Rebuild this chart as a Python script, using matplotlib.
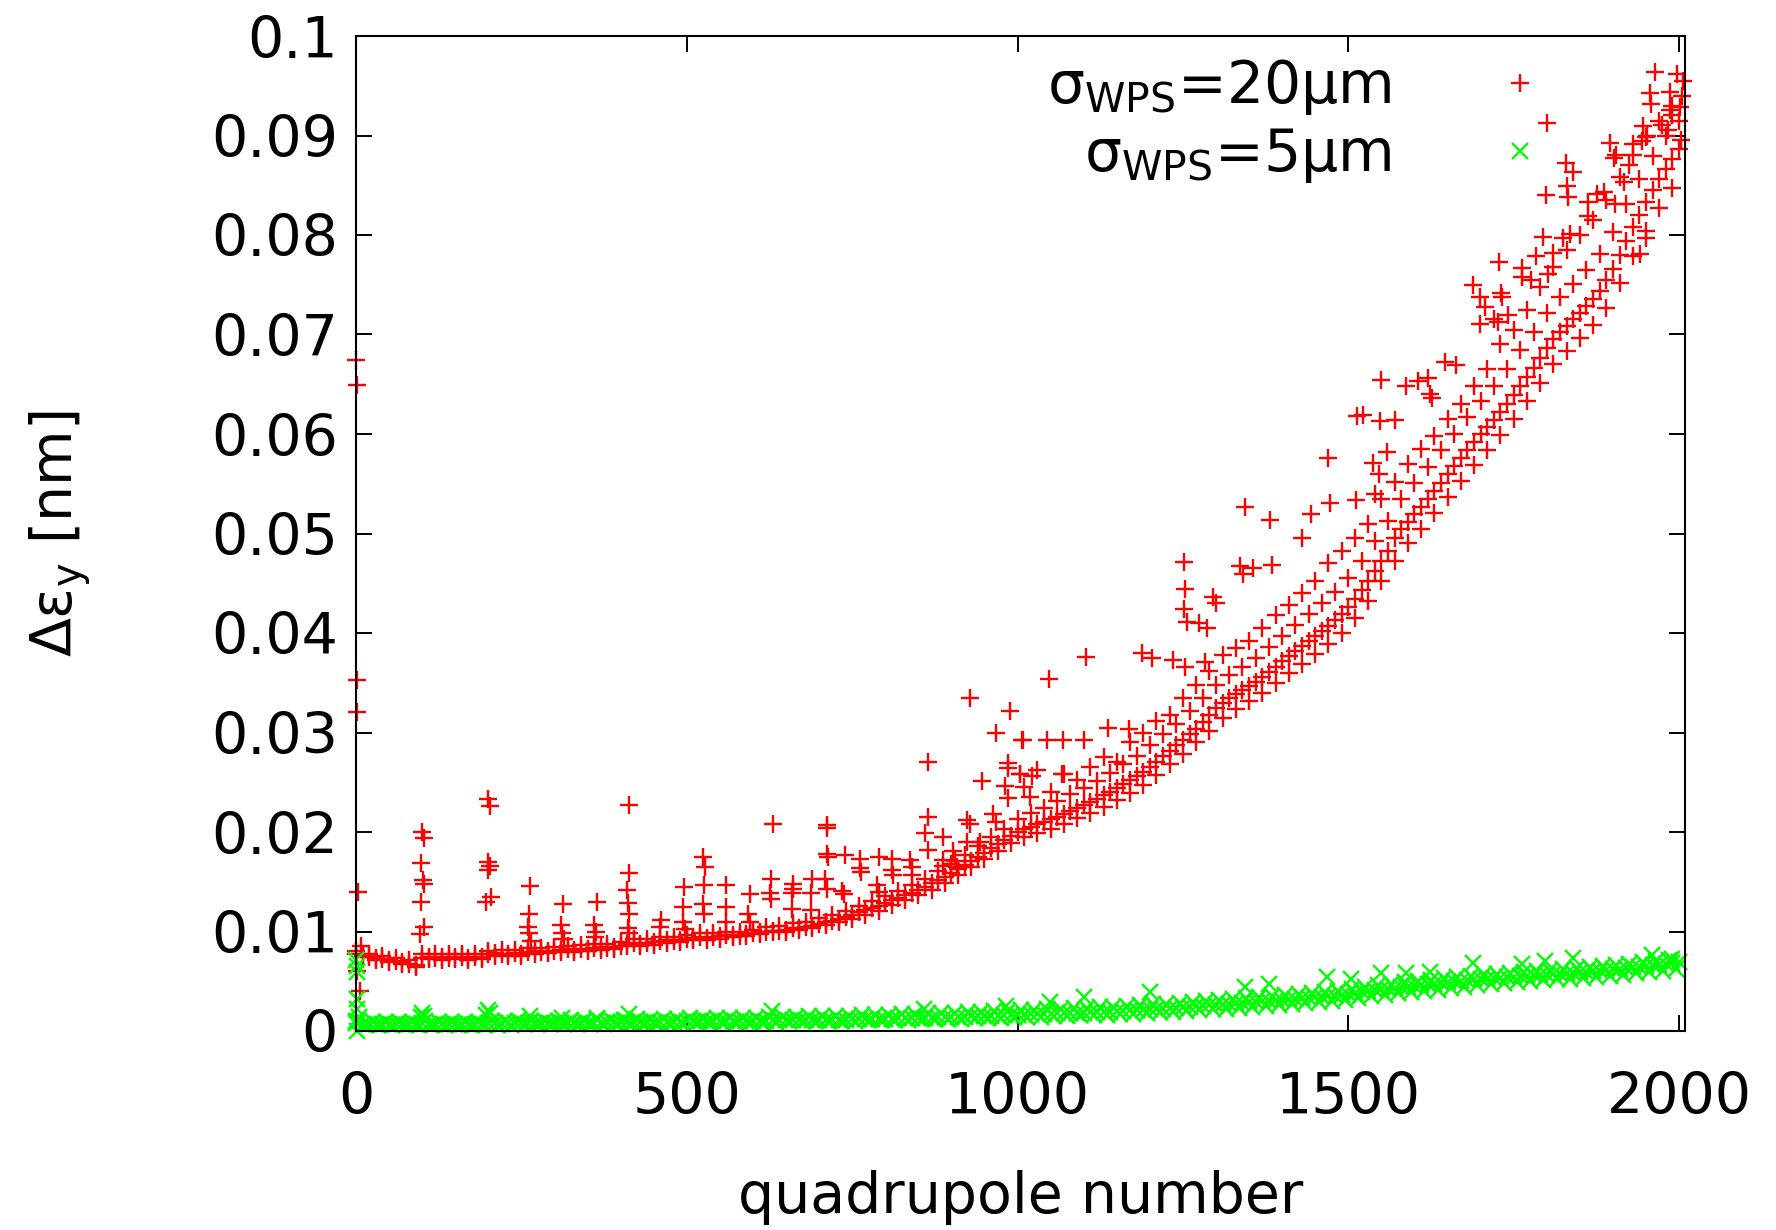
import numpy as np
import matplotlib
matplotlib.use("Agg")
import matplotlib.pyplot as plt
from matplotlib.lines import Line2D

# ---------------- data ----------------
# sigma_WPS = 20 um : dense band centre, quadrupole 0..2000 step 10
red_main_q = np.arange(0, 2001, 10)
red_main = [
    0.0077, 0.0076, 0.0074, 0.0073, 0.0072, 0.0071, 0.0070, 0.0069, 0.0067, 0.0066,
    0.0073, 0.0074, 0.0073, 0.0074, 0.0073, 0.0074, 0.0074, 0.0073, 0.0074, 0.0074,
    0.0077, 0.0078, 0.0077, 0.0077, 0.0078, 0.0077, 0.0079, 0.0080, 0.0079, 0.0080,
    0.0080, 0.0081, 0.0082, 0.0081, 0.0082, 0.0082, 0.0083, 0.0084, 0.0083, 0.0084,
    0.0085, 0.0087, 0.0088, 0.0087, 0.0088, 0.0089, 0.0090, 0.0091, 0.0090, 0.0091,
    0.0092, 0.0093, 0.0094, 0.0093, 0.0094, 0.0095, 0.0096, 0.0096, 0.0095, 0.0097,
    0.0098, 0.0099, 0.0100, 0.0101, 0.0101, 0.0102, 0.0104, 0.0104, 0.0105, 0.0106,
    0.0108, 0.0110, 0.0111, 0.0113, 0.0115, 0.0117, 0.0120, 0.0122, 0.0124, 0.0126,
    0.0129, 0.0132, 0.0134, 0.0137, 0.0139, 0.0142, 0.0145, 0.0149, 0.0152, 0.0155,
    0.0159, 0.0163, 0.0167, 0.0171, 0.0175, 0.0179, 0.0184, 0.0188, 0.0192, 0.0196,
    0.0200, 0.0203, 0.0205, 0.0208, 0.0210, 0.0213, 0.0215, 0.0218, 0.0221, 0.0224,
    0.0227, 0.0230, 0.0233, 0.0237, 0.0240, 0.0244, 0.0248, 0.0252, 0.0256, 0.0260,
    0.0265, 0.0270, 0.0276, 0.0281, 0.0287, 0.0292, 0.0298, 0.0304, 0.0311, 0.0318,
    0.0325, 0.0330, 0.0335, 0.0339, 0.0343, 0.0347, 0.0351, 0.0356, 0.0361, 0.0366,
    0.0372, 0.0377, 0.0382, 0.0387, 0.0392, 0.0397, 0.0402, 0.0407, 0.0413, 0.0419,
    0.0426, 0.0434, 0.0443, 0.0452, 0.0462, 0.0472, 0.0482, 0.0495, 0.0505, 0.0512,
    0.0520, 0.0527, 0.0535, 0.0543, 0.0551, 0.0560, 0.0568, 0.0576, 0.0584, 0.0592,
    0.0600, 0.0607, 0.0614, 0.0622, 0.0630, 0.0639, 0.0648, 0.0657, 0.0666, 0.0676,
    0.0686, 0.0695, 0.0703, 0.0709, 0.0716, 0.0722, 0.0729, 0.0736, 0.0744, 0.0755,
    0.0766, 0.0780, 0.0794, 0.0808, 0.0820, 0.0833, 0.0845, 0.0856, 0.0866, 0.0876,
    0.0886,
]

# upper edge of the dense band, quadrupole 0..2000 step 20
red_hi_q = np.arange(0, 2001, 20)
red_hi = [
    0.0080, 0.0077, 0.0075, 0.0073, 0.0071,
    0.0077, 0.0077, 0.0077, 0.0077, 0.0077,
    0.0080, 0.0081, 0.0081, 0.0083, 0.0083,
    0.0084, 0.0085, 0.0086, 0.0087, 0.0087,
    0.0089, 0.0092, 0.0092, 0.0094, 0.0094,
    0.0096, 0.0098, 0.0098, 0.0100, 0.0100,
    0.0102, 0.0105, 0.0106, 0.0109, 0.0110,
    0.0114, 0.0117, 0.0121, 0.0126, 0.0131,
    0.0136, 0.0141, 0.0147, 0.0153, 0.0161,
    0.0168, 0.0177, 0.0186, 0.0195, 0.0203,
    0.0213, 0.0219, 0.0224, 0.0231, 0.0238,
    0.0244, 0.0251, 0.0259, 0.0268, 0.0276,
    0.0287, 0.0298, 0.0309, 0.0322, 0.0335,
    0.0348, 0.0358, 0.0366, 0.0375, 0.0386,
    0.0397, 0.0408, 0.0419, 0.0430, 0.0441,
    0.0455, 0.0472, 0.0492, 0.0513, 0.0535,
    0.0551, 0.0567, 0.0584, 0.0600, 0.0617,
    0.0633, 0.0648, 0.0665, 0.0684, 0.0703,
    0.0722, 0.0738, 0.0751, 0.0765, 0.0781,
    0.0803, 0.0831, 0.0856, 0.0879, 0.0900,
    0.0915,
]

# lower edge of the dense band, quadrupole 10..1990 step 20
red_lo_q = np.arange(10, 2000, 20)
red_lo = [
    0.0074, 0.0071, 0.0069, 0.0067, 0.0064,
    0.0072, 0.0071, 0.0072, 0.0071, 0.0072,
    0.0075, 0.0075, 0.0075, 0.0077, 0.0078,
    0.0079, 0.0079, 0.0080, 0.0081, 0.0082,
    0.0085, 0.0085, 0.0086, 0.0088, 0.0089,
    0.0091, 0.0091, 0.0092, 0.0094, 0.0095,
    0.0097, 0.0099, 0.0100, 0.0102, 0.0104,
    0.0107, 0.0110, 0.0113, 0.0117, 0.0121,
    0.0127, 0.0132, 0.0137, 0.0142, 0.0149,
    0.0157, 0.0165, 0.0173, 0.0181, 0.0189,
    0.0195, 0.0199, 0.0203, 0.0208, 0.0214,
    0.0219, 0.0225, 0.0232, 0.0239, 0.0247,
    0.0257, 0.0268, 0.0278, 0.0290, 0.0302,
    0.0315, 0.0324, 0.0332, 0.0340, 0.0350,
    0.0360, 0.0369, 0.0379, 0.0389, 0.0400,
    0.0415, 0.0432, 0.0452, 0.0472, 0.0490,
    0.0505, 0.0521, 0.0537, 0.0553, 0.0569,
    0.0584, 0.0599, 0.0615, 0.0633, 0.0651,
    0.0670, 0.0683, 0.0696, 0.0710, 0.0727,
    0.0752, 0.0779, 0.0804, 0.0827, 0.0847,
]

# scattered upper stream, quadrupole 1010..1990 step 20
red_up_q = np.arange(1010, 2000, 20)
red_up = [
    0.0245, 0.0262, 0.0240, 0.0258, 0.0252,
    0.0265, 0.0275, 0.0270, 0.0290, 0.0300,
    0.0312, 0.0318, 0.0335, 0.0348, 0.0362,
    0.0378, 0.0385, 0.0392, 0.0405, 0.0418,
    0.0428, 0.0440, 0.0452, 0.0470, 0.0482,
    0.0495, 0.0510, 0.0535, 0.0552, 0.0570,
    0.0585, 0.0598, 0.0615, 0.0630, 0.0648,
    0.0665, 0.0690, 0.0705, 0.0725, 0.0748,
    0.0768, 0.0785, 0.0800, 0.0815, 0.0835,
    0.0858, 0.0880, 0.0898, 0.0915, 0.0930,
]

# isolated points (quadrupole, value)
red_out_q = [
    0, 1, 2, 1, 3, 8, 6, 2,
    100, 103, 99, 101, 103, 98, 103, 97,
    199, 202, 199, 202, 200, 204, 196,
    263, 262, 260, 262, 265,
    313, 310, 312, 315,
    364, 360, 363, 362,
    413, 412, 409, 411, 413, 411, 412,
    461, 460, 496, 495, 495, 497,
    525, 527, 526, 525, 526,
    559, 559, 560,
    596, 593, 595,
    630, 628, 626, 628,
    660, 660, 659, 659,
    689, 688, 688,
    712, 712, 712, 714, 709, 712,
    739, 734, 738,
    762, 762, 764,
    790, 787, 790,
    810, 810, 812,
    838, 840, 841,
    865, 865, 860, 864, 888, 888, 888,
    903, 905, 908,
    923, 928, 923, 943,
    928, 988, 968, 1007, 947, 985, 985, 1004, 981, 986, 963, 968,
    1048, 1104, 1251, 1253, 1251, 1256, 1274, 1286, 1296, 1300,
    1344, 1382, 1430, 1443, 1469, 1472, 1513,
    1188, 1203, 1235, 1253, 1283,
    1336, 1341, 1356, 1384,
    1137, 1168, 1100, 1009, 1044, 1069, 1004, 1022, 1067, 1019,
    1523, 1548, 1571, 1549, 1588, 1606, 1620, 1624, 1626, 1646, 1663,
    1558, 1537, 1547, 1512, 1540,
    1688, 1699, 1728, 1731, 1732, 1707, 1720, 1699, 1727, 1742,
    1800, 1829, 1840, 1799, 1830, 1832, 1795, 1784, 1810, 1824, 1835,
    1762, 1763, 1776, 1802,
    1863, 1863, 1876, 1886, 1895, 1901, 1905, 1925, 1917, 1903, 1950, 1941,
    1964, 1997, 2006, 1956, 1958, 1986, 1986, 1989, 1946, 1951, 1931, 1944,
    1974, 1984, 2001, 2004, 2003,
]
red_out_v = [
    0.0674, 0.0649, 0.0353, 0.0321, 0.0140, 0.0085, 0.0040, 0.0060,
    0.0200, 0.0194, 0.0169, 0.0152, 0.0148, 0.0130, 0.0105, 0.0097,
    0.0233, 0.0226, 0.0170, 0.0166, 0.0162, 0.0135, 0.0130,
    0.0146, 0.0118, 0.0105, 0.0098, 0.0090,
    0.0128, 0.0107, 0.0098, 0.0092,
    0.0130, 0.0107, 0.0100, 0.0094,
    0.0227, 0.0159, 0.0142, 0.0129, 0.0118, 0.0104, 0.0098,
    0.0112, 0.0105, 0.0145, 0.0125, 0.0110, 0.0103,
    0.0175, 0.0165, 0.0147, 0.0128, 0.0118,
    0.0147, 0.0125, 0.0110,
    0.0138, 0.0118, 0.0110,
    0.0208, 0.0153, 0.0139, 0.0133,
    0.0148, 0.0143, 0.0139, 0.0123,
    0.0153, 0.0139, 0.0122,
    0.0207, 0.0204, 0.0178, 0.0175, 0.0153, 0.0143,
    0.0177, 0.0141, 0.0138,
    0.0173, 0.0164, 0.0160,
    0.0175, 0.0147, 0.0140,
    0.0173, 0.0162, 0.0157,
    0.0172, 0.0165, 0.0157,
    0.0270, 0.0215, 0.0199, 0.0182, 0.0195, 0.0172, 0.0166,
    0.0181, 0.0171, 0.0165,
    0.0212, 0.0208, 0.0190, 0.0190,
    0.0335, 0.0322, 0.0300, 0.0292, 0.0251, 0.0269, 0.0264, 0.0258, 0.0246, 0.0234, 0.0218, 0.0210,
    0.0354, 0.0376, 0.0471, 0.0444, 0.0424, 0.0411, 0.0410, 0.0405, 0.0436, 0.0430,
    0.0527, 0.0514, 0.0495, 0.0520, 0.0576, 0.0531, 0.0618,
    0.0380, 0.0375, 0.0373, 0.0366, 0.0371,
    0.0467, 0.0459, 0.0465, 0.0468,
    0.0305, 0.0304, 0.0292, 0.0292, 0.0292, 0.0292, 0.0258, 0.0256, 0.0258, 0.0235,
    0.0619, 0.0613, 0.0614, 0.0654, 0.0648, 0.0653, 0.0656, 0.0640, 0.0636, 0.0672, 0.0669,
    0.0582, 0.0571, 0.0560, 0.0534, 0.0540,
    0.0750, 0.0738, 0.0773, 0.0742, 0.0738, 0.0728, 0.0716, 0.0711, 0.0713, 0.0720,
    0.0913, 0.0872, 0.0863, 0.0840, 0.0849, 0.0838, 0.0798, 0.0779, 0.0782, 0.0797, 0.0801,
    0.0767, 0.0758, 0.0755, 0.0761,
    0.0833, 0.0819, 0.0841, 0.0843, 0.0892, 0.0877, 0.0880, 0.0870, 0.0853, 0.0831, 0.0797, 0.0781,
    0.0964, 0.0962, 0.0955, 0.0943, 0.0932, 0.0944, 0.0926, 0.0921, 0.0910, 0.0900, 0.0891, 0.0894,
    0.0911, 0.0906, 0.0929, 0.0940, 0.0895,
]

# sigma_WPS = 5 um : band centre, quadrupole 0..2000 step 10
green_main_q = np.arange(0, 2001, 10)
green_main = [
    0.0008, 0.0007, 0.0007, 0.0007, 0.0007, 0.0007, 0.0007, 0.0007, 0.0007, 0.0007,
    0.0008, 0.0007, 0.0007, 0.0007, 0.0007, 0.0007, 0.0007, 0.0007, 0.0007, 0.0007,
    0.0008, 0.0008, 0.0007, 0.0008, 0.0008, 0.0008, 0.0008, 0.0008, 0.0008, 0.0008,
    0.0008, 0.0008, 0.0008, 0.0008, 0.0008, 0.0008, 0.0008, 0.0008, 0.0009, 0.0009,
    0.0009, 0.0009, 0.0009, 0.0009, 0.0009, 0.0009, 0.0009, 0.0009, 0.0009, 0.0009,
    0.0010, 0.0010, 0.0010, 0.0010, 0.0010, 0.0010, 0.0010, 0.0010, 0.0010, 0.0010,
    0.0010, 0.0010, 0.0010, 0.0011, 0.0011, 0.0011, 0.0011, 0.0011, 0.0011, 0.0011,
    0.0011, 0.0011, 0.0011, 0.0011, 0.0011, 0.0012, 0.0012, 0.0012, 0.0012, 0.0012,
    0.0012, 0.0012, 0.0013, 0.0013, 0.0013, 0.0013, 0.0013, 0.0013, 0.0014, 0.0014,
    0.0014, 0.0014, 0.0014, 0.0015, 0.0015, 0.0015, 0.0015, 0.0015, 0.0016, 0.0016,
    0.0016, 0.0016, 0.0017, 0.0017, 0.0017, 0.0017, 0.0018, 0.0018, 0.0018, 0.0018,
    0.0018, 0.0019, 0.0019, 0.0019, 0.0019, 0.0020, 0.0020, 0.0021, 0.0021, 0.0021,
    0.0022, 0.0022, 0.0022, 0.0023, 0.0023, 0.0024, 0.0024, 0.0025, 0.0025, 0.0026,
    0.0026, 0.0027, 0.0027, 0.0028, 0.0028, 0.0029, 0.0029, 0.0030, 0.0030, 0.0031,
    0.0031, 0.0032, 0.0032, 0.0033, 0.0033, 0.0034, 0.0034, 0.0035, 0.0035, 0.0036,
    0.0037, 0.0038, 0.0039, 0.0040, 0.0041, 0.0042, 0.0042, 0.0043, 0.0044, 0.0044,
    0.0045, 0.0046, 0.0047, 0.0047, 0.0048, 0.0049, 0.0050, 0.0050, 0.0051, 0.0052,
    0.0052, 0.0052, 0.0053, 0.0053, 0.0054, 0.0054, 0.0055, 0.0055, 0.0056, 0.0056,
    0.0056, 0.0057, 0.0057, 0.0058, 0.0058, 0.0059, 0.0059, 0.0060, 0.0060, 0.0061,
    0.0062, 0.0062, 0.0063, 0.0064, 0.0064, 0.0065, 0.0066, 0.0066, 0.0067, 0.0068,
    0.0069,
]

# upper edge of the green band, quadrupole 5..1985 step 20
green_hi_q = np.arange(5, 2000, 20)
green_hi = [
    0.0010, 0.0009, 0.0009, 0.0009, 0.0009,
    0.0010, 0.0009, 0.0009, 0.0009, 0.0009,
    0.0010, 0.0010, 0.0010, 0.0010, 0.0010,
    0.0010, 0.0011, 0.0010, 0.0011, 0.0011,
    0.0011, 0.0012, 0.0011, 0.0012, 0.0012,
    0.0013, 0.0012, 0.0013, 0.0013, 0.0013,
    0.0013, 0.0014, 0.0014, 0.0014, 0.0015,
    0.0015, 0.0015, 0.0015, 0.0016, 0.0016,
    0.0016, 0.0017, 0.0017, 0.0018, 0.0018,
    0.0018, 0.0019, 0.0019, 0.0020, 0.0020,
    0.0021, 0.0021, 0.0022, 0.0022, 0.0023,
    0.0023, 0.0024, 0.0024, 0.0025, 0.0026,
    0.0027, 0.0027, 0.0028, 0.0029, 0.0030,
    0.0031, 0.0032, 0.0033, 0.0034, 0.0035,
    0.0036, 0.0037, 0.0038, 0.0039, 0.0040,
    0.0042, 0.0044, 0.0046, 0.0047, 0.0049,
    0.0050, 0.0051, 0.0053, 0.0054, 0.0055,
    0.0057, 0.0057, 0.0058, 0.0059, 0.0060,
    0.0061, 0.0062, 0.0063, 0.0064, 0.0065,
    0.0066, 0.0067, 0.0069, 0.0070, 0.0071,
]

# lower edge of the green band, quadrupole 15..1995 step 20
green_lo_q = np.arange(15, 2000, 20)
green_lo = [
    0.0006, 0.0006, 0.0006, 0.0006, 0.0006,
    0.0006, 0.0006, 0.0006, 0.0006, 0.0006,
    0.0006, 0.0006, 0.0007, 0.0007, 0.0007,
    0.0007, 0.0007, 0.0007, 0.0007, 0.0008,
    0.0008, 0.0008, 0.0008, 0.0008, 0.0008,
    0.0009, 0.0009, 0.0009, 0.0009, 0.0009,
    0.0009, 0.0009, 0.0010, 0.0010, 0.0010,
    0.0010, 0.0010, 0.0010, 0.0011, 0.0011,
    0.0011, 0.0011, 0.0012, 0.0012, 0.0012,
    0.0012, 0.0013, 0.0013, 0.0013, 0.0014,
    0.0014, 0.0014, 0.0015, 0.0015, 0.0016,
    0.0016, 0.0016, 0.0017, 0.0017, 0.0018,
    0.0019, 0.0019, 0.0020, 0.0021, 0.0022,
    0.0022, 0.0023, 0.0024, 0.0025, 0.0026,
    0.0027, 0.0028, 0.0029, 0.0030, 0.0031,
    0.0033, 0.0035, 0.0036, 0.0038, 0.0039,
    0.0040, 0.0041, 0.0043, 0.0044, 0.0046,
    0.0047, 0.0048, 0.0049, 0.0050, 0.0051,
    0.0052, 0.0052, 0.0053, 0.0054, 0.0055,
    0.0056, 0.0058, 0.0059, 0.0060, 0.0062,
]

green_out_q = [0, 1, 2, 1, 2, 0, 1, 5,
               100, 103, 98, 199, 202, 197, 263, 413, 312, 364,
               629, 859, 983, 1049, 1101, 1200, 1344, 1380, 1468, 1504,
               1550, 1588, 1623, 1688, 1762, 1797, 1840, 1959, 1990]
green_out_v = [0.0071, 0.0065, 0.0059, 0.0032, 0.0022, 0.0010, 0.0000, 0.0014,
               0.0018, 0.0015, 0.0014, 0.0021, 0.0018, 0.0016, 0.0015, 0.0017, 0.0013, 0.0013,
               0.0020, 0.0022, 0.0025, 0.0029, 0.0034, 0.0039, 0.0044, 0.0047, 0.0054, 0.0052,
               0.0058, 0.0058, 0.0059, 0.0068, 0.0067, 0.0070, 0.0073, 0.0076, 0.0072]

labels = ["σ$_{\\mathrm{WPS}}$=20μm", "σ$_{\\mathrm{WPS}}$=5μm"]
x_ticks = [0, 500, 1000, 1500, 2000]
y_ticks = [0, 0.01, 0.02, 0.03, 0.04, 0.05, 0.06, 0.07, 0.08, 0.09, 0.1]
y_ticklabels = ["0", "0.01", "0.02", "0.03", "0.04", "0.05", "0.06", "0.07", "0.08", "0.09", "0.1"]

# ---------------- plotting ----------------
plt.rcParams["font.family"] = ["DejaVu Sans"]
plt.rcParams["mathtext.fontset"] = "dejavusans"
FS = 41
LFS = 42

RED = "#ff0000"
GREEN = "#00ff00"
MS = 13
MEW = 1.7

fig = plt.figure(figsize=(17.76, 12.30), dpi=100)
ax = fig.add_axes([356 / 1776, 1 - 1031 / 1230, (1685 - 356) / 1776, (1031 - 36) / 1230])

red_style = dict(ls="none", marker="+", ms=MS, mew=MEW, color=RED, clip_on=False)
green_style = dict(ls="none", marker="x", ms=MS * 0.9, mew=MEW, color=GREEN, clip_on=False)

ax.plot(red_main_q, red_main, **red_style)
ax.plot(red_hi_q, red_hi, **red_style)
ax.plot(red_lo_q, red_lo, **red_style)
ax.plot(red_up_q, red_up, **red_style)
ax.plot(red_out_q, red_out_v, **red_style)

ax.plot(green_main_q, green_main, **green_style)
ax.plot(green_hi_q, green_hi, **green_style)
ax.plot(green_lo_q, green_lo, **green_style)
ax.plot(green_out_q, green_out_v, **green_style)

ax.set_xlim(0, 2009)
ax.set_ylim(0, 0.1)
ax.set_xticks(x_ticks)
ax.set_xticklabels([str(t) for t in x_ticks])
ax.set_yticks(y_ticks)
ax.set_yticklabels(y_ticklabels)
ax.tick_params(axis="both", which="major", direction="in", length=11.5, width=1.4,
               labelsize=FS, top=True, right=True)
ax.tick_params(axis="x", pad=29)
ax.tick_params(axis="y", pad=13)
for s in ax.spines.values():
    s.set_linewidth(1.5)

ax.set_xlabel("quadrupole number", fontsize=FS)
ax.xaxis.set_label_coords(0.5, -0.14)
ax.xaxis.label.set_va("top")
ax.set_ylabel("Δε$_{\\mathrm{y}}$ [nm]", fontsize=FS)
ax.yaxis.set_label_coords(-0.198, 0.5)

handles = [Line2D([], [], ls="none", marker="+", ms=MS, mew=MEW, color=RED),
           Line2D([], [], ls="none", marker="x", ms=MS * 0.9, mew=MEW, color=GREEN)]
leg = ax.legend(handles, labels, loc="upper right", markerfirst=False, frameon=False,
                fontsize=LFS, handlelength=1.0, handletextpad=1.71, labelspacing=0.16,
                borderpad=0, borderaxespad=0,
                bbox_to_anchor=(1549 / 1776, 1 - 57 / 1230), bbox_transform=fig.transFigure)
for t in leg.get_texts():
    t.set_ha("right")

fig.savefig("out.png", dpi=100)
